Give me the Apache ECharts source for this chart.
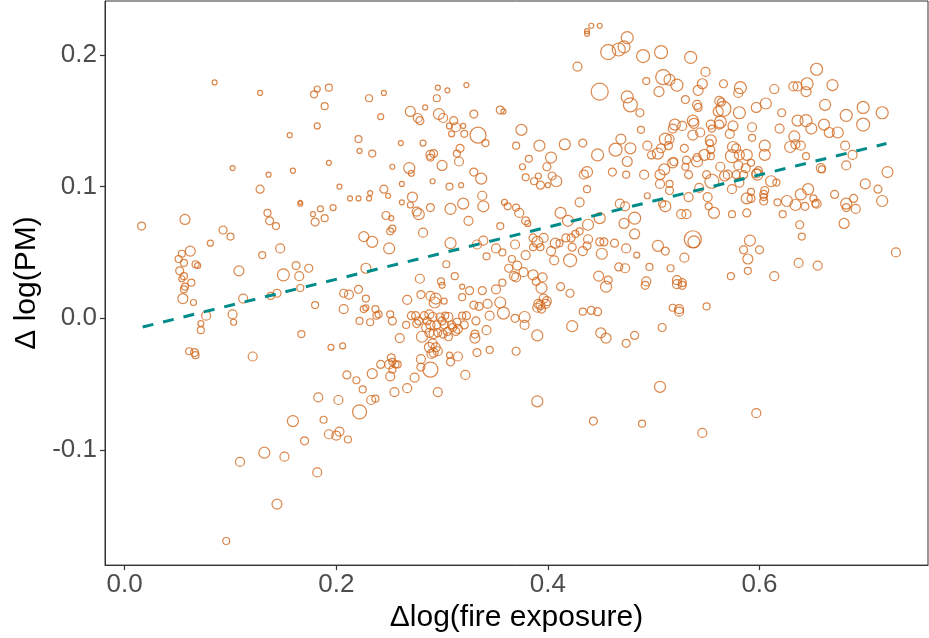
<!DOCTYPE html>
<html>
<head>
<meta charset="utf-8">
<script src="https://cdn.jsdelivr.net/npm/echarts@6/dist/echarts.min.js"></script>
<style>
  html, body { margin: 0; padding: 0; background: #fff; }
  #chart { width: 929px; height: 638px; }
</style>
</head>
<body>
<div id="chart"></div>
<script>
// each point: [Δlog(fire exposure), Δlog(PM), weight]
const obs = [
  [0.085,0.179,5],[0.128,0.171,5],[0.182,0.174,6],[0.179,0.170,7],[0.193,0.175,7],[0.231,0.167,7],[0.189,0.161,7],[0.182,0.146,6],[0.156,0.139,5],[0.221,0.136,7],
  [0.441,0.222,5],[0.449,0.222,5],[0.437,0.218,5],[0.437,0.216,5],[0.475,0.213,12],[0.457,0.202,15],[0.467,0.204,13],[0.472,0.206,12],[0.490,0.199,13],[0.428,0.191,9],
  [0.493,0.180,7],[0.449,0.172,17],[0.475,0.168,12],[0.478,0.162,14],[0.487,0.156,8],[0.488,0.143,7],[0.469,0.136,10],[0.245,0.171,5],[0.242,0.153,6],[0.296,0.175,5],
  [0.305,0.173,5],[0.323,0.177,5],[0.295,0.167,7],[0.284,0.160,5],[0.270,0.157,10],[0.277,0.152,9],[0.279,0.150,8],[0.297,0.155,11],[0.301,0.152,9],[0.311,0.150,8],
  [0.313,0.145,9],[0.320,0.146,5],[0.307,0.146,6],[0.309,0.140,6],[0.321,0.140,7],[0.334,0.139,16],[0.330,0.155,8],[0.355,0.158,8],[0.358,0.157,5],[0.375,0.143,11],
  [0.507,0.202,13],[0.535,0.198,12],[0.654,0.189,12],[0.549,0.187,9],[0.509,0.183,15],[0.515,0.181,11],[0.522,0.177,12],[0.546,0.178,10],[0.542,0.173,10],[0.566,0.178,8],
  [0.582,0.175,12],[0.580,0.171,9],[0.505,0.172,10],[0.530,0.166,8],[0.614,0.174,9],[0.632,0.176,9],[0.636,0.176,9],[0.645,0.178,12],[0.644,0.172,10],[0.669,0.177,11],
  [0.562,0.165,9],[0.564,0.164,8],[0.541,0.162,9],[0.542,0.160,8],[0.561,0.157,10],[0.566,0.159,15],[0.581,0.156,12],[0.597,0.160,10],[0.606,0.163,11],[0.621,0.156,8],
  [0.662,0.162,11],[0.698,0.160,12],[0.716,0.156,12],[0.682,0.154,12],[0.698,0.147,13],[0.563,0.149,12],[0.537,0.150,11],[0.538,0.148,10],[0.520,0.147,11],[0.527,0.146,9],
  [0.518,0.144,9],[0.554,0.147,9],[0.555,0.144,7],[0.562,0.147,9],[0.575,0.146,10],[0.572,0.140,9],[0.593,0.145,9],[0.593,0.137,7],[0.544,0.141,9],[0.537,0.139,10],
  [0.619,0.144,9],[0.636,0.150,11],[0.644,0.150,12],[0.649,0.144,11],[0.633,0.138,11],[0.661,0.147,11],[0.666,0.141,10],[0.674,0.141,11],[0.511,0.136,12],[0.515,0.136,9],
  [0.554,0.135,11],
  [0.222,0.127,5],[0.234,0.125,7],[0.193,0.118,5],[0.102,0.114,5],[0.136,0.109,5],[0.159,0.112,5],[0.203,0.100,5],[0.128,0.098,8],[0.166,0.087,5],[0.166,0.088,4],
  [0.213,0.091,5],[0.221,0.091,5],[0.232,0.095,5],[0.231,0.091,5],[0.197,0.084,6],[0.185,0.083,6],[0.178,0.079,5],[0.180,0.073,8],[0.189,0.076,7],[0.135,0.080,7],
  [0.137,0.074,8],[0.143,0.070,7],[0.057,0.075,10],[0.016,0.070,8],[0.093,0.067,8],[0.100,0.062,7],[0.081,0.057,6],[0.062,0.051,10],[0.054,0.049,7],[0.051,0.045,7],
  [0.056,0.042,7],[0.067,0.041,7],[0.069,0.040,6],[0.052,0.036,8],[0.056,0.032,7],[0.054,0.030,6],[0.063,0.027,7],[0.108,0.036,10],[0.130,0.048,7],[0.147,0.053,9],
  [0.150,0.033,12],[0.165,0.032,9],[0.162,0.040,8],[0.174,0.038,8],[0.226,0.062,10],[0.234,0.058,11],[0.228,0.038,10],
  [0.261,0.133,5],[0.282,0.133,6],[0.341,0.133,7],[0.370,0.131,7],[0.392,0.131,11],[0.416,0.132,11],[0.433,0.133,8],[0.464,0.128,13],[0.478,0.129,11],[0.494,0.131,9],
  [0.498,0.124,8],[0.447,0.124,12],[0.475,0.119,10],[0.317,0.129,8],[0.314,0.125,7],[0.316,0.119,9],[0.289,0.124,9],[0.292,0.125,8],[0.289,0.122,7],[0.300,0.116,10],
  [0.269,0.114,11],[0.271,0.110,6],[0.253,0.115,5],[0.245,0.098,8],[0.249,0.093,5],[0.262,0.102,5],[0.262,0.088,5],[0.272,0.092,10],[0.270,0.086,6],[0.276,0.081,9],
  [0.278,0.079,11],[0.289,0.084,8],[0.291,0.104,5],[0.307,0.100,7],[0.318,0.101,5],[0.330,0.111,8],[0.337,0.106,11],[0.338,0.093,9],[0.339,0.085,11],[0.320,0.087,11],
  [0.308,0.083,11],[0.325,0.074,9],[0.247,0.078,8],[0.252,0.076,5],[0.253,0.068,7],[0.251,0.066,7],[0.282,0.065,9],[0.250,0.053,11],[0.308,0.057,11],[0.304,0.041,7],
  [0.312,0.032,7],[0.279,0.030,9],[0.299,0.028,7],[0.333,0.056,9],[0.339,0.059,9],[0.342,0.047,7],[0.351,0.053,9],[0.357,0.050,7],[0.355,0.070,7],[0.359,0.088,6],
  [0.362,0.085,7],[0.370,0.084,7],[0.373,0.080,9],[0.379,0.074,8],[0.381,0.072,6],[0.369,0.056,9],[0.379,0.048,9],[0.386,0.061,8],[0.390,0.058,11],[0.396,0.061,9],
  [0.386,0.054,7],[0.393,0.054,7],[0.403,0.051,9],[0.406,0.044,9],[0.407,0.057,10],[0.411,0.057,7],[0.412,0.080,11],[0.419,0.074,11],[0.403,0.122,11],[0.399,0.115,8],
  [0.382,0.121,7],[0.376,0.115,6],[0.379,0.107,7],[0.391,0.108,6],[0.387,0.104,7],[0.393,0.101,8],[0.400,0.101,5],[0.404,0.108,8],[0.408,0.104,11],[0.430,0.088,9],
  [0.437,0.098,7],[0.437,0.111,11],[0.434,0.109,9],[0.461,0.111,8],[0.474,0.109,7],[0.491,0.109,9],[0.494,0.093,6],[0.468,0.087,9],[0.473,0.085,9],[0.482,0.076,12],
  [0.472,0.072,10],[0.482,0.064,10],[0.449,0.076,11],[0.438,0.071,11],[0.430,0.066,7],[0.426,0.064,7],[0.422,0.061,8],[0.417,0.061,8],[0.438,0.060,9],[0.437,0.055,8],
  [0.423,0.054,8],[0.421,0.044,13],[0.433,0.051,9],[0.449,0.058,8],[0.453,0.058,8],[0.463,0.057,8],[0.451,0.049,11],[0.474,0.053,9],[0.484,0.048,6],[0.467,0.039,8],
  [0.473,0.038,9],[0.496,0.039,7],[0.448,0.032,10],[0.457,0.029,8],[0.493,0.028,9],[0.366,0.045,7],[0.363,0.038,8],[0.371,0.040,9],[0.377,0.035,9],[0.368,0.032,9],
  [0.370,0.031,9],[0.386,0.033,10],[0.395,0.031,9],[0.389,0.028,8],[0.357,0.027,7],
  [0.504,0.125,11],[0.507,0.129,9],[0.514,0.131,8],[0.529,0.129,8],[0.554,0.128,8],[0.554,0.123,7],[0.553,0.133,7],[0.575,0.130,11],[0.578,0.129,9],[0.574,0.123,13],
  [0.581,0.124,10],[0.588,0.124,11],[0.605,0.131,11],[0.605,0.124,11],[0.629,0.130,11],[0.634,0.132,9],[0.639,0.131,9],[0.644,0.123,7],[0.681,0.131,9],[0.688,0.124,9],
  [0.682,0.116,9],[0.658,0.114,9],[0.659,0.113,7],[0.721,0.111,11],[0.700,0.102,10],[0.712,0.098,8],[0.716,0.089,11],[0.671,0.094,8],[0.689,0.091,8],[0.682,0.087,11],
  [0.682,0.084,8],[0.691,0.083,9],[0.680,0.072,10],[0.646,0.098,11],[0.639,0.094,11],[0.651,0.091,7],[0.654,0.087,9],[0.653,0.087,7],[0.626,0.089,11],[0.634,0.086,11],
  [0.643,0.085,8],[0.617,0.088,7],[0.622,0.079,7],[0.604,0.094,8],[0.604,0.092,7],[0.605,0.097,8],[0.604,0.089,8],[0.611,0.104,11],[0.616,0.103,7],[0.598,0.109,11],
  [0.597,0.110,9],[0.599,0.112,8],[0.592,0.118,7],[0.587,0.114,9],[0.580,0.116,9],[0.585,0.109,8],[0.578,0.109,8],[0.581,0.103,9],[0.570,0.109,9],[0.567,0.108,10],
  [0.563,0.115,9],[0.555,0.104,14],[0.550,0.109,8],[0.548,0.124,11],[0.541,0.122,8],[0.541,0.119,11],[0.531,0.120,8],[0.530,0.115,7],[0.533,0.109,8],[0.518,0.118,10],
  [0.519,0.119,8],[0.510,0.113,11],[0.506,0.109,10],[0.506,0.102,9],[0.515,0.102,7],[0.515,0.097,8],[0.543,0.099,9],[0.533,0.092,9],[0.551,0.092,9],[0.574,0.098,9],
  [0.592,0.096,7],[0.588,0.091,11],[0.592,0.091,8],[0.511,0.085,11],[0.508,0.087,7],[0.526,0.079,9],[0.531,0.079,9],[0.552,0.085,7],[0.557,0.080,11],[0.574,0.079,7],
  [0.588,0.080,8],[0.638,0.071,8],[0.640,0.062,7],[0.729,0.050,9],[0.537,0.060,17],[0.538,0.058,12],[0.591,0.059,11],[0.585,0.052,8],[0.600,0.052,8],[0.589,0.045,10],
  [0.589,0.036,7],[0.573,0.032,7],[0.614,0.032,9],[0.637,0.042,9],[0.655,0.040,9],[0.504,0.055,11],[0.511,0.051,8],[0.529,0.046,9],[0.516,0.038,7],[0.522,0.029,9],
  [0.527,0.027,8],
  [0.057,0.024,7],[0.056,0.022,7],[0.055,0.015,10],[0.065,0.012,6],[0.077,0.002,9],[0.072,-0.004,6],[0.072,-0.009,7],[0.102,0.003,9],[0.103,-0.003,6],[0.112,0.015,9],
  [0.138,0.017,7],[0.144,0.019,8],[0.166,0.023,7],[0.180,0.010,7],[0.167,-0.012,7],[0.061,-0.025,7],[0.066,-0.026,8],[0.067,-0.028,7],[0.121,-0.029,9],[0.195,-0.022,6],
  [0.206,-0.021,6],[0.207,0.019,8],[0.212,0.018,9],[0.221,0.022,8],[0.228,0.015,7],[0.207,0.007,9],[0.226,0.007,7],[0.228,0.008,6],[0.237,0.007,7],[0.238,0.002,7],
  [0.222,-0.002,7],[0.232,-0.003,7],[0.210,-0.043,8],[0.219,-0.047,7],[0.234,-0.042,10],[0.225,-0.054,7],[0.183,-0.060,9],[0.202,-0.062,9],[0.222,-0.071,14],[0.233,-0.062,9],
  [0.237,-0.061,7],[0.159,-0.078,11],[0.188,-0.077,7],
  [0.193,-0.088,9],[0.200,-0.089,9],[0.203,-0.086,9],[0.211,-0.092,7],[0.170,-0.093,8],[0.132,-0.102,11],[0.151,-0.105,9],[0.109,-0.109,9],[0.182,-0.117,9],[0.144,-0.141,10],
  [0.096,-0.169,7],
  [0.319,0.024,5],[0.326,0.021,8],[0.338,0.021,8],[0.351,0.022,9],[0.300,0.025,6],[0.394,0.023,11],[0.412,0.024,8],[0.421,0.019,8],[0.455,0.024,11],[0.492,0.025,8],
  [0.267,0.014,9],[0.280,0.018,8],[0.289,0.017,9],[0.294,0.015,11],[0.293,0.012,11],[0.302,0.013,6],[0.319,0.016,7],[0.330,0.010,8],[0.335,0.009,8],[0.343,0.011,9],
  [0.355,0.012,11],[0.358,0.004,12],[0.345,0.002,9],[0.332,-0.002,8],[0.342,-0.009,9],[0.331,-0.012,8],[0.331,-0.015,10],[0.321,-0.005,8],[0.323,0.002,8],[0.319,0.002,7],
  [0.314,-0.003,8],[0.310,-0.007,8],[0.315,-0.008,9],[0.313,-0.010,8],[0.306,0.001,9],[0.303,0.002,7],[0.300,-0.002,8],[0.288,0.003,9],[0.283,0.002,8],[0.291,0.001,9],
  [0.286,-0.002,8],[0.275,0.002,8],[0.271,0.002,8],[0.278,-0.002,8],[0.289,-0.005,9],[0.285,-0.007,9],[0.295,-0.005,8],[0.298,0.001,8],[0.288,-0.011,9],[0.281,-0.014,11],
  [0.292,-0.012,9],[0.296,-0.011,8],[0.301,-0.012,8],[0.305,-0.010,8],[0.306,-0.014,8],[0.291,-0.019,9],[0.288,-0.022,10],[0.294,-0.022,9],[0.292,-0.026,9],[0.296,-0.025,9],
  [0.290,-0.027,9],[0.276,-0.004,8],[0.302,-0.005,8],[0.309,-0.005,8],[0.260,-0.015,9],[0.253,-0.002,8],[0.266,-0.005,7],[0.240,0.003,7],[0.251,0.003,7],[0.280,-0.031,9],
  [0.289,-0.039,15],[0.280,-0.037,8],[0.307,-0.028,6],[0.315,-0.029,9],[0.308,-0.033,8],[0.333,-0.026,8],[0.345,-0.024,7],[0.370,-0.025,8],[0.369,0.000,8],[0.378,0.001,11],
  [0.378,-0.005,9],[0.390,-0.013,11],[0.391,0.011,9],[0.393,0.010,9],[0.390,0.008,9],[0.399,0.013,9],[0.396,0.015,9],[0.394,0.007,8],[0.398,0.011,9],[0.433,0.005,7],
  [0.441,0.006,8],[0.447,0.005,8],[0.423,-0.006,11],[0.450,-0.011,10],[0.455,-0.015,10],[0.474,-0.019,8],[0.482,-0.013,8],[0.252,-0.030,8],[0.253,-0.033,7],[0.250,-0.035,9],
  [0.256,-0.035,7],[0.258,-0.035,7],[0.253,-0.039,7],[0.242,-0.035,8],[0.251,-0.044,9],[0.274,-0.045,9],[0.322,-0.043,9],[0.267,-0.053,9],[0.255,-0.056,9],[0.296,-0.056,9],
  [0.390,-0.063,11],[0.443,-0.078,8],[0.489,-0.080,7],
  [0.522,0.026,9],[0.527,0.025,8],[0.518,0.008,7],[0.524,0.007,9],[0.524,0.005,9],[0.550,0.009,7],[0.508,-0.007,8],[0.506,-0.052,11],[0.597,-0.072,9],
  [0.546,-0.087,9]
];

// fitted line ends
const fitX = [0.017, 0.72];
const fitY = [-0.0066, 0.1326];

const xTicks = [0, 0.2, 0.4, 0.6];
const yTicks = [-0.1, 0, 0.1, 0.2];

const chart = echarts.init(document.getElementById('chart'));

const font = 'Liberation Sans, Arial, Helvetica, sans-serif';

chart.setOption({
  animation: false,
  grid: {
    left: 105,
    right: 1,
    top: 1,
    bottom: 69,
    show: true,
    borderColor: '#333',
    borderWidth: 1
  },
  xAxis: {
    type: 'value',
    min: -0.0186,
    max: 0.7593,
    name: 'Δlog(fire exposure)',
    nameLocation: 'middle',
    nameGap: 34,
    nameTextStyle: { fontSize: 30, color: '#000', fontFamily: font },
    axisLine: { show: true, onZero: false, lineStyle: { color: '#333', width: 1 } },
    axisTick: { show: true, length: 5, customValues: xTicks, lineStyle: { color: '#333', width: 1.2 } },
    axisLabel: {
      customValues: xTicks,
      formatter: v => v.toFixed(1),
      fontSize: 26, color: '#4D4D4D', fontFamily: font, margin: 7
    },
    splitLine: { show: false }
  },
  yAxis: {
    type: 'value',
    min: -0.1873,
    max: 0.2408,
    name: 'Δ log(PM)',
    nameLocation: 'middle',
    nameGap: 62,
    nameRotate: 90,
    nameTextStyle: { fontSize: 30, color: '#000', fontFamily: font },
    axisLine: { show: true, onZero: false, lineStyle: { color: '#333', width: 1 } },
    axisTick: { show: true, length: 5, customValues: yTicks, lineStyle: { color: '#333', width: 1.2 } },
    axisLabel: {
      customValues: yTicks,
      formatter: v => v.toFixed(1),
      fontSize: 26, color: '#4D4D4D', fontFamily: font, margin: 8
    },
    splitLine: { show: false }
  },
  series: [
    {
      type: 'scatter',
      data: obs,
      symbol: 'circle',
      symbolSize: v => v[2],
      itemStyle: {
        color: 'rgba(255,255,255,0)',
        borderColor: '#D2691E',
        borderWidth: 1.2
      },
      silent: true
    },
    {
      type: 'line',
      data: fitX.map((x, i) => [x, fitY[i]]),
      showSymbol: false,
      lineStyle: { color: '#008B8B', width: 3, type: [11, 10] },
      silent: true,
      z: 5
    }
  ]
});
</script>
</body>
</html>
